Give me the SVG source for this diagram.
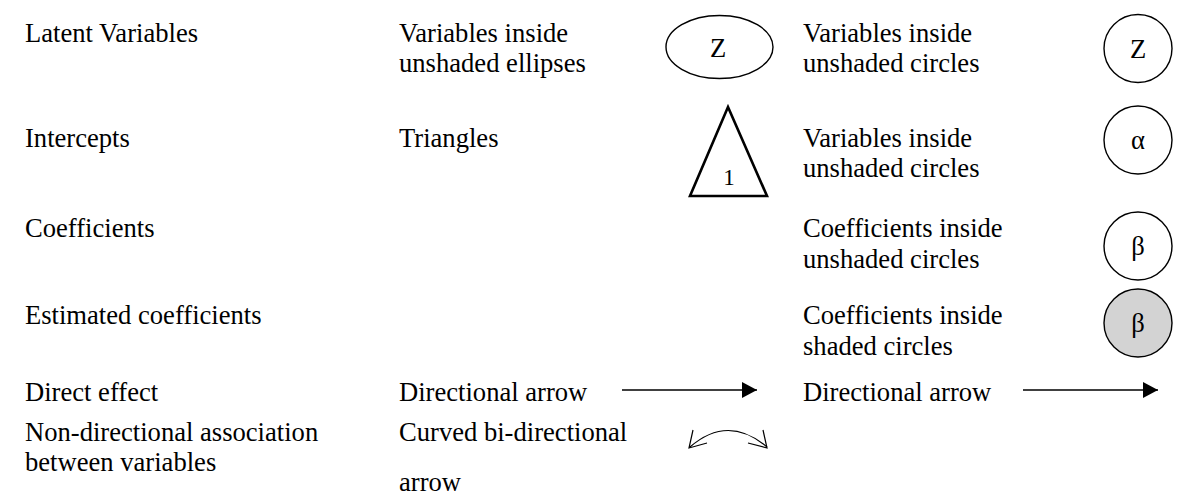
<svg xmlns="http://www.w3.org/2000/svg" width="1184" height="495" viewBox="0 0 1184 495">
<style>
text{font-family:"Liberation Serif","Times New Roman",serif;font-size:26.6px;fill:#000}
.sym{text-anchor:middle}
.shape{fill:#fff;stroke:#000;stroke-width:1.4}
.shaded{fill:#d3d3d3;stroke:#000;stroke-width:1.4}
.tri{fill:#fff;stroke:#000;stroke-width:2.6;stroke-linejoin:miter}
.line{fill:none;stroke:#000;stroke-width:1.5}
.thin{fill:none;stroke:#000;stroke-width:1.2}
</style>
<defs>
<marker id="head" markerUnits="userSpaceOnUse" markerWidth="16" markerHeight="16" viewBox="0 0 16 16" refX="15" refY="8" orient="auto">
<path d="M0,0 L15,8 L0,16 Z" fill="#000"/>
</marker>
</defs>
<rect width="1184" height="495" fill="#fff"/>

<g id="row-latent">
<text x="25" y="42">Latent Variables</text>
<text x="399" y="42">Variables inside</text>
<text x="399" y="72">unshaded ellipses</text>
<text x="803" y="42">Variables inside</text>
<text x="803" y="72">unshaded circles</text>
</g>
<g id="node-ellipse-z">
<ellipse class="shape" cx="719.5" cy="47" rx="53.5" ry="31.5"/>
<text class="sym" x="718" y="57">Z</text>
</g>
<g id="node-circle-z">
<circle class="shape" cx="1138" cy="48.5" r="34"/>
<text class="sym" x="1138" y="58">Z</text>
</g>

<g id="row-intercepts">
<text x="25" y="147">Intercepts</text>
<text x="399" y="147">Triangles</text>
<text x="803" y="147">Variables inside</text>
<text x="803" y="177">unshaded circles</text>
</g>
<g id="node-triangle">
<polygon class="tri" points="728,107 690,196 767,196"/>
<text class="sym" x="729" y="185" style="font-size:23px">1</text>
</g>
<g id="node-circle-alpha">
<circle class="shape" cx="1138" cy="140" r="34"/>
<text class="sym" x="1138" y="149">α</text>
</g>

<g id="row-coefficients">
<text x="25" y="237">Coefficients</text>
<text x="803" y="237">Coefficients inside</text>
<text x="803" y="268">unshaded circles</text>
</g>
<g id="node-circle-beta">
<circle class="shape" cx="1138" cy="246" r="34"/>
<text class="sym" x="1138" y="255">β</text>
</g>

<g id="row-estimated">
<text x="25" y="324">Estimated coefficients</text>
<text x="803" y="324">Coefficients inside</text>
<text x="803" y="355">shaded circles</text>
</g>
<g id="node-circle-beta-shaded">
<circle class="shaded" cx="1138" cy="323" r="34"/>
<text class="sym" x="1138" y="332">β</text>
</g>

<g id="row-direct">
<text x="25" y="401">Direct effect</text>
<text x="399" y="401">Directional arrow</text>
<text x="803" y="401">Directional arrow</text>
</g>

<g id="row-nondirectional">
<text x="25" y="441">Non-directional association</text>
<text x="25" y="471">between variables</text>
<text x="399" y="441">Curved bi-directional</text>
<text x="399" y="491">arrow</text>
</g>

<g id="connectors">
<line class="line" x1="622" y1="390" x2="757" y2="390" marker-end="url(#head)"/>
<line class="line" x1="1023" y1="390" x2="1158" y2="390" marker-end="url(#head)"/>
<path class="thin" d="M690,447 Q728,414 767,447"/>
<path class="thin" d="M693,430 L689,448 L707,443"/>
<path class="thin" d="M763,430 L767,448 L748,443"/>
</g>
</svg>
